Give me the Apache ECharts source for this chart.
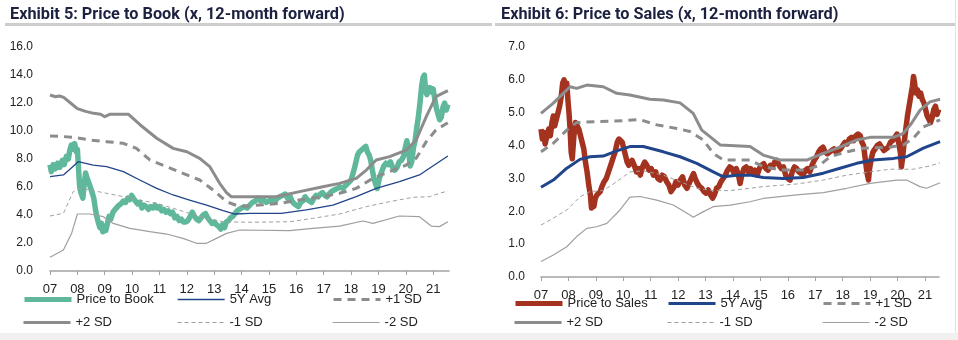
<!DOCTYPE html>
<html>
<head>
<meta charset="utf-8">
<script src="https://cdn.jsdelivr.net/npm/echarts@6/dist/echarts.min.js"></script>
<style>
  html, body { margin: 0; padding: 0; background: #ffffff; }
  #chart { width: 958px; height: 340px; }
</style>
</head>
<body>
<div id="chart"></div>
<script>
// ---- Time axis (fractional years) and tick labels ----
const yearTicks = [2007, 2008, 2009, 2010, 2011, 2012, 2013, 2014, 2015, 2016, 2017, 2018, 2019, 2020, 2021];
const yearLabels = ['07', '08', '09', '10', '11', '12', '13', '14', '15', '16', '17', '18', '19', '20', '21'];

// ---- Exhibit 5: Price to Book (x, 12-month forward) ----
const priceToBook = [
  [2007.00,7.6],[2007.05,7.1],[2007.12,7.6],[2007.20,7.3],[2007.28,7.7],[2007.36,7.4],[2007.45,7.9],[2007.52,7.6],
  [2007.60,8.2],[2007.67,8.0],[2007.72,8.6],[2007.78,9.0],[2007.84,8.7],[2007.90,9.1],[2007.96,8.5],[2008.00,8.7],
  [2008.04,7.4],[2008.08,6.1],[2008.13,5.6],[2008.20,5.2],[2008.25,6.2],[2008.30,7.0],[2008.36,6.6],[2008.42,6.3],
  [2008.48,6.4],[2008.54,5.6],[2008.60,5.2],[2008.66,4.4],[2008.70,4.0],[2008.76,3.5],[2008.82,3.1],[2008.88,3.4],
  [2008.93,2.8],[2008.98,3.2],[2009.04,2.9],[2009.10,3.4],[2009.16,3.9],[2009.22,3.7],[2009.30,4.2],[2009.38,4.4],
  [2009.45,4.3],[2009.52,4.7],[2009.60,4.8],[2009.68,5.0],[2009.76,4.9],[2009.84,5.2],[2009.92,5.1],[2009.98,5.4],
  [2010.05,5.2],[2010.12,5.0],[2010.20,4.8],[2010.28,4.9],[2010.36,4.5],[2010.44,4.7],[2010.52,4.6],[2010.60,4.4],
  [2010.68,4.6],[2010.76,4.5],[2010.84,4.7],[2010.92,4.5],[2011.00,4.6],[2011.08,4.3],[2011.16,4.4],[2011.24,4.2],
  [2011.32,4.3],[2011.40,4.1],[2011.48,4.2],[2011.56,3.8],[2011.64,3.9],[2011.72,3.6],[2011.80,3.7],[2011.88,3.5],
  [2011.96,3.5],[2012.04,3.6],[2012.12,3.9],[2012.20,4.2],[2012.28,3.9],[2012.36,3.7],[2012.44,3.6],[2012.52,3.8],
  [2012.60,4.0],[2012.68,4.1],[2012.76,3.8],[2012.84,3.6],[2012.92,3.4],[2013.00,3.5],[2013.08,3.3],[2013.16,3.2],
  [2013.24,3.0],[2013.30,3.3],[2013.38,3.1],[2013.44,3.5],[2013.52,3.6],[2013.60,3.8],[2013.68,3.9],[2013.76,4.1],
  [2013.84,4.3],[2013.92,4.4],[2014.00,4.5],[2014.10,4.6],[2014.20,4.5],[2014.30,4.7],[2014.40,4.9],[2014.50,5.0],
  [2014.60,5.2],[2014.70,5.0],[2014.80,5.1],[2014.90,4.9],[2015.00,5.0],[2015.10,5.1],[2015.20,4.9],[2015.30,5.2],
  [2015.40,5.3],[2015.50,5.4],[2015.60,5.5],[2015.68,5.2],[2015.76,5.4],[2015.84,5.0],[2015.92,4.8],[2016.00,4.7],
  [2016.08,4.6],[2016.16,4.9],[2016.24,5.0],[2016.32,5.3],[2016.40,5.1],[2016.48,5.0],[2016.56,4.9],[2016.64,5.2],
  [2016.72,5.4],[2016.80,5.3],[2016.88,5.5],[2016.96,5.6],[2017.04,5.4],[2017.12,5.3],[2017.20,5.5],[2017.30,5.7],
  [2017.40,5.8],[2017.50,5.9],[2017.60,6.0],[2017.70,5.9],[2017.80,6.1],[2017.90,6.3],[2018.00,6.5],[2018.06,6.9],
  [2018.12,7.3],[2018.18,7.8],[2018.24,8.3],[2018.30,8.5],[2018.36,8.4],[2018.42,8.7],[2018.48,8.6],[2018.54,8.9],
  [2018.60,8.5],[2018.66,8.3],[2018.72,7.9],[2018.78,7.2],[2018.84,6.6],[2018.90,6.2],[2018.96,5.9],[2019.02,6.5],
  [2019.08,6.9],[2019.14,7.2],[2019.20,7.5],[2019.28,7.7],[2019.36,7.6],[2019.44,7.8],[2019.52,7.4],[2019.60,7.2],
  [2019.68,7.4],[2019.76,7.8],[2019.84,7.9],[2019.92,8.2],[2019.98,8.8],[2020.04,9.3],[2020.10,8.7],[2020.16,7.5],
  [2020.22,7.8],[2020.28,8.8],[2020.34,9.3],[2020.40,10.2],[2020.46,11.0],[2020.52,12.0],[2020.58,13.2],[2020.63,13.8],
  [2020.68,14.0],[2020.72,13.0],[2020.77,12.6],[2020.82,12.9],[2020.88,13.1],[2020.94,12.8],[2021.00,13.0],[2021.06,12.3],
  [2021.12,11.6],[2021.18,11.2],[2021.24,10.8],[2021.30,11.0],[2021.36,11.7],[2021.42,12.0],[2021.48,11.5],[2021.54,11.9]
];
const pbAvg5y = [
  [2007.00,6.74],[2007.49,6.86],[2007.75,7.30],[2008.03,7.81],[2008.58,7.57],[2009.07,7.45],[2009.68,7.10],[2010.28,6.50],
  [2010.90,5.90],[2011.50,5.43],[2012.10,5.07],[2012.72,4.71],[2013.33,4.31],[2013.75,4.07],[2014.30,4.12],[2015.45,4.12],
  [2016.37,4.36],[2017.34,4.71],[2018.19,5.31],[2018.92,5.90],[2019.77,6.38],[2020.50,6.86],[2020.99,7.50],[2021.54,8.21]
];
const pbPlus1 = [
  [2007.00,9.64],[2007.50,9.60],[2007.85,9.55],[2008.46,9.36],[2009.07,9.24],[2009.68,9.12],[2010.16,8.76],[2010.65,7.93],
  [2011.26,7.45],[2011.86,6.98],[2012.47,6.50],[2012.96,5.79],[2013.45,4.95],[2013.93,4.60],[2014.66,4.71],[2015.39,4.83],
  [2016.10,5.07],[2016.97,5.31],[2017.58,5.55],[2018.19,5.90],[2018.80,6.62],[2019.41,7.10],[2020.02,7.57],[2020.38,8.05],
  [2020.75,9.24],[2021.10,10.07],[2021.54,10.60]
];
const pbPlus2 = [
  [2007.00,12.57],[2007.20,12.45],[2007.35,12.50],[2007.50,12.40],[2007.75,12.00],[2008.00,11.60],[2008.30,11.40],[2008.60,11.26],
  [2008.85,11.20],[2009.00,11.02],[2009.20,11.20],[2009.86,11.20],[2010.30,10.43],[2010.90,9.48],[2011.50,8.76],[2012.00,8.52],
  [2012.47,8.05],[2012.84,7.45],[2013.20,6.26],[2013.45,5.60],[2013.63,5.30],[2014.30,5.30],[2015.27,5.31],[2016.12,5.67],
  [2016.97,6.02],[2017.58,6.26],[2018.19,6.62],[2018.56,7.21],[2018.92,7.93],[2019.41,8.17],[2020.02,8.64],[2020.38,9.36],
  [2020.75,11.02],[2021.10,12.45],[2021.54,12.88]
];
const pbMinus1 = [
  [2007.00,3.93],[2007.49,4.12],[2007.85,5.67],[2008.10,5.90],[2008.58,5.74],[2009.07,5.55],[2009.68,5.31],[2010.28,5.07],
  [2010.90,4.83],[2011.50,4.48],[2012.10,4.12],[2012.72,3.76],[2013.33,3.52],[2014.30,3.48],[2015.76,3.52],[2016.60,3.76],
  [2017.58,4.07],[2018.56,4.60],[2019.41,4.95],[2020.26,5.26],[2020.87,5.31],[2021.23,5.55],[2021.54,5.71]
];
const pbMinus2 = [
  [2007.00,0.98],[2007.49,1.50],[2007.79,2.69],[2008.00,4.07],[2008.46,4.07],[2008.95,3.88],[2009.31,3.40],[2009.92,3.05],
  [2010.65,2.81],[2011.26,2.64],[2011.86,2.33],[2012.35,1.98],[2012.72,1.98],[2013.08,2.33],[2013.45,2.69],[2013.93,2.93],
  [2015.76,2.88],[2016.60,3.05],[2017.58,3.21],[2018.43,3.57],[2018.80,3.40],[2019.77,3.93],[2020.50,3.88],[2020.93,3.21],
  [2021.23,3.17],[2021.54,3.52]
];

// ---- Exhibit 6: Price to Sales (x, 12-month forward) ----
const priceToSales = [
  [2007.00,4.50],[2007.05,4.20],[2007.10,4.40],[2007.15,4.05],[2007.22,4.30],[2007.28,4.50],[2007.34,4.30],[2007.40,4.70],
  [2007.45,4.90],[2007.50,4.60],[2007.56,4.60],[2007.62,5.00],[2007.68,5.20],[2007.74,5.50],[2007.79,5.90],[2007.84,6.00],
  [2007.89,5.70],[2007.94,5.90],[2007.98,5.40],[2008.02,5.00],[2008.06,4.50],[2008.10,3.80],[2008.14,3.60],[2008.20,4.30],
  [2008.26,4.70],[2008.32,4.60],[2008.38,4.50],[2008.44,4.30],[2008.50,4.10],[2008.56,3.90],[2008.62,3.50],[2008.68,3.20],
  [2008.74,2.80],[2008.80,2.50],[2008.84,2.10],[2008.88,2.30],[2008.93,2.15],[2008.98,2.40],[2009.04,2.50],[2009.10,2.45],
  [2009.16,2.60],[2009.22,2.75],[2009.30,2.90],[2009.38,3.00],[2009.46,3.20],[2009.54,3.40],[2009.62,3.60],[2009.70,3.80],
  [2009.78,4.10],[2009.84,4.20],[2009.90,4.25],[2009.96,4.10],[2010.02,3.90],[2010.08,3.70],[2010.14,3.50],[2010.20,3.40],
  [2010.26,3.35],[2010.32,3.55],[2010.40,3.40],[2010.48,3.20],[2010.56,3.30],[2010.62,3.10],[2010.70,3.35],[2010.78,3.50],
  [2010.86,3.40],[2010.94,3.25],[2011.02,3.30],[2011.10,3.10],[2011.18,3.20],[2011.26,3.00],[2011.34,2.95],[2011.42,3.10],
  [2011.50,3.05],[2011.58,2.90],[2011.66,2.80],[2011.74,2.60],[2011.80,2.55],[2011.86,2.75],[2011.92,2.90],[2012.00,2.80],
  [2012.08,2.95],[2012.16,3.05],[2012.24,2.80],[2012.32,2.70],[2012.40,2.85],[2012.48,3.00],[2012.56,3.15],[2012.62,3.00],
  [2012.70,2.85],[2012.78,2.75],[2012.86,2.70],[2012.94,2.60],[2013.02,2.55],[2013.10,2.65],[2013.18,2.50],[2013.26,2.40],
  [2013.32,2.50],[2013.40,2.70],[2013.48,2.75],[2013.56,2.90],[2013.64,3.00],[2013.72,3.10],[2013.80,3.25],[2013.88,3.35],
  [2013.96,3.30],[2014.04,3.15],[2014.12,3.30],[2014.20,3.10],[2014.26,2.85],[2014.32,3.10],[2014.40,3.30],[2014.48,3.35],
  [2014.56,3.20],[2014.64,3.30],[2014.72,3.15],[2014.80,3.25],[2014.88,3.10],[2014.96,3.30],[2015.04,3.40],[2015.12,3.45],
  [2015.20,3.30],[2015.28,3.25],[2015.36,3.40],[2015.44,3.35],[2015.52,3.50],[2015.60,3.55],[2015.68,3.40],[2015.76,3.30],
  [2015.84,3.35],[2015.92,3.10],[2016.00,3.00],[2016.08,2.95],[2016.16,3.20],[2016.24,3.35],[2016.32,3.30],[2016.40,3.20],
  [2016.48,3.15],[2016.56,3.10],[2016.64,3.25],[2016.72,3.30],[2016.80,3.20],[2016.88,3.40],[2016.96,3.55],[2017.04,3.65],
  [2017.12,3.80],[2017.20,3.90],[2017.28,3.95],[2017.36,3.80],[2017.44,3.75],[2017.52,3.80],[2017.60,3.85],[2017.68,3.90],
  [2017.76,3.80],[2017.84,3.85],[2017.92,3.90],[2018.00,4.00],[2018.08,4.10],[2018.16,4.05],[2018.24,4.20],[2018.32,4.25],
  [2018.40,4.15],[2018.48,4.30],[2018.56,4.35],[2018.64,4.30],[2018.70,4.10],[2018.76,4.00],[2018.82,3.60],[2018.88,3.20],
  [2018.94,2.95],[2018.98,3.30],[2019.04,3.60],[2019.10,3.80],[2019.18,3.90],[2019.26,4.00],[2019.34,4.05],[2019.42,3.95],
  [2019.50,3.85],[2019.58,3.90],[2019.66,3.95],[2019.74,4.10],[2019.82,4.15],[2019.90,4.25],[2019.98,4.35],[2020.04,4.30],
  [2020.10,3.80],[2020.14,3.35],[2020.18,3.60],[2020.24,4.10],[2020.30,4.50],[2020.36,4.90],[2020.42,5.20],[2020.48,5.50],
  [2020.54,5.80],[2020.58,6.10],[2020.62,5.90],[2020.66,5.60],[2020.72,5.70],[2020.78,5.50],[2020.84,5.60],[2020.90,5.40],
  [2020.96,5.30],[2021.02,5.10],[2021.08,4.90],[2021.14,4.80],[2021.20,4.70],[2021.26,4.85],[2021.32,5.10],[2021.38,5.20],
  [2021.44,4.95],[2021.50,5.10]
];
const psAvg5y = [
  [2007.00,2.73],[2007.45,2.95],[2007.94,3.31],[2008.42,3.58],[2008.79,3.66],[2009.27,3.68],[2009.76,3.84],[2010.24,3.97],
  [2010.73,3.97],[2011.46,3.81],[2012.07,3.66],[2012.68,3.46],[2013.28,3.20],[2013.65,3.05],[2014.13,3.10],[2014.62,3.10],
  [2015.10,3.03],[2015.83,3.00],[2016.56,3.03],[2017.29,3.16],[2017.90,3.31],[2018.51,3.46],[2019.11,3.56],[2019.85,3.61],
  [2020.33,3.66],[2020.94,3.92],[2021.55,4.12]
];
const psPlus1 = [
  [2007.00,3.81],[2007.45,4.07],[2007.94,4.47],[2008.30,4.70],[2009.03,4.73],[2010.00,4.76],[2010.61,4.79],[2011.22,4.63],
  [2011.95,4.52],[2012.43,4.43],[2012.92,4.17],[2013.28,3.76],[2013.65,3.56],[2014.62,3.56],[2015.10,3.36],[2015.71,3.26],
  [2016.69,3.26],[2017.17,3.41],[2017.54,3.66],[2018.15,3.81],[2018.75,3.92],[2019.72,3.95],[2020.21,4.02],[2020.57,4.22],
  [2020.94,4.57],[2021.55,4.78]
];
const psPlus2 = [
  [2007.00,4.98],[2007.45,5.29],[2007.81,5.59],[2008.06,5.79],[2008.30,5.74],[2008.67,5.84],[2009.27,5.79],[2009.76,5.59],
  [2010.24,5.54],[2010.97,5.41],[2011.46,5.39],[2012.07,5.30],[2012.55,4.98],[2012.86,4.47],[2013.16,4.27],[2013.53,4.02],
  [2014.62,3.97],[2015.10,3.71],[2015.71,3.56],[2016.69,3.56],[2017.29,3.76],[2017.90,3.95],[2018.51,4.17],[2019.00,4.25],
  [2019.85,4.25],[2020.21,4.37],[2020.51,4.68],[2020.82,5.08],[2021.18,5.33],[2021.55,5.41]
];
const psMinus1 = [
  [2007.00,1.58],[2007.45,1.79],[2007.94,2.04],[2008.42,2.44],[2008.79,2.60],[2009.27,2.63],[2009.76,2.90],[2010.24,3.20],
  [2010.73,3.23],[2011.46,3.10],[2012.07,2.90],[2012.68,2.70],[2013.28,2.63],[2013.90,2.63],[2015.10,2.75],[2016.32,2.83],
  [2017.29,2.95],[2018.15,3.10],[2019.00,3.20],[2019.72,3.28],[2020.57,3.28],[2021.18,3.38],[2021.55,3.48]
];
const psMinus2 = [
  [2007.00,0.47],[2007.45,0.67],[2007.94,0.92],[2008.30,1.23],[2008.67,1.48],[2009.03,1.53],[2009.40,1.63],[2009.88,2.04],
  [2010.24,2.43],[2010.61,2.45],[2011.22,2.34],[2011.82,2.19],[2012.43,1.89],[2012.55,1.82],[2012.92,1.99],[2013.28,2.14],
  [2013.90,2.19],[2014.62,2.29],[2015.10,2.39],[2016.32,2.50],[2017.29,2.57],[2018.15,2.70],[2019.00,2.85],[2019.97,2.95],
  [2020.33,2.95],[2020.82,2.75],[2021.06,2.70],[2021.55,2.87]
];

// ---- Shared styling ----
const FONT = '"Liberation Sans", Arial, sans-serif';
const GREY = '#8c8c8c';
const GREY_LIGHT = '#9f9f9f';
const TEAL = '#5fb89b';
const RED = '#a3321f';
const NAVY = '#21458a';

const styles = {
  pb:    { color: TEAL, width: 5.5, type: 'solid' },
  pbAvg: { color: NAVY, width: 1.3, type: 'solid' },
  ps:    { color: RED, width: 5.5, type: 'solid' },
  psAvg: { color: NAVY, width: 3, type: 'solid' },
  plus1: { color: GREY, width: 3, type: [8, 6] },
  plus2: { color: GREY, width: 3, type: 'solid' },
  minus1:{ color: GREY_LIGHT, width: 1, type: [4, 3] },
  minus2:{ color: GREY_LIGHT, width: 1.2, type: 'solid' }
};

function lineSeries(name, data, idx, style) {
  return {
    name: name, type: 'line', data: data,
    xAxisIndex: idx, yAxisIndex: idx,
    symbol: 'none', showSymbol: false, silent: true, animation: false,
    lineStyle: { color: style.color, width: style.width, type: style.type, cap: 'butt', join: 'round' },
    itemStyle: { color: style.color }
  };
}

// One legend block per entry so the entries sit in fixed columns
function legendItem(name, style, left, top) {
  return {
    show: true,
    data: [name],
    left: left, top: top, padding: 0,
    itemWidth: 47, itemHeight: 14, itemGap: 0,
    selectedMode: false,
    lineStyle: { color: style.color, width: Math.min(style.width, 5), type: style.type },
    itemStyle: { opacity: 0, borderWidth: 0 },
    textStyle: { fontFamily: FONT, fontSize: 13, color: '#222' }
  };
}

function xAxisFor(idx, max) {
  return {
    type: 'value', gridIndex: idx, min: 2007, max: max,
    axisLine: { show: true, lineStyle: { color: '#a3a3a3', width: 1.5 } },
    axisTick: { show: true, length: 4, customValues: yearTicks, lineStyle: { color: '#a3a3a3', width: 1 } },
    axisLabel: {
      customValues: yearTicks, margin: 12,
      fontFamily: FONT, fontSize: 13, color: '#222',
      formatter: function (v) { const i = yearTicks.indexOf(Math.round(v)); return i >= 0 ? yearLabels[i] : ''; }
    },
    splitLine: { show: false }
  };
}

function yAxisFor(idx, max, margin) {
  return {
    type: 'value', gridIndex: idx, min: 0, max: max, interval: max === 16 ? 2 : 1,
    axisLine: { show: false }, axisTick: { show: false }, splitLine: { show: false },
    axisLabel: { margin: margin, fontFamily: FONT, fontSize: 12, color: '#222', formatter: function (v) { return v.toFixed(1); } }
  };
}

const chart = echarts.init(document.getElementById('chart'), null, { renderer: 'canvas' });

const option = {
  backgroundColor: '#ffffff',
  animation: false,
  title: [
    { text: 'Exhibit 5: Price to Book (x, 12-month forward)', left: 5, top: 2,
      textStyle: { fontFamily: 'Roboto, sans-serif', fontWeight: 'bold', fontSize: 16.3, color: '#1d2140' } },
    { text: 'Exhibit 6: Price to Sales (x, 12-month forward)', left: 496, top: 2,
      textStyle: { fontFamily: 'Roboto, sans-serif', fontWeight: 'bold', fontSize: 16.3, color: '#1d2140' } }
  ],
  grid: [
    { left: 50, right: 958 - 449, top: 47, bottom: 340 - 271, containLabel: false },
    { left: 541, right: 958 - 939, top: 47, bottom: 340 - 277, containLabel: false }
  ],
  xAxis: [xAxisFor(0, 2021.58), xAxisFor(1, 2021.51)],
  yAxis: [yAxisFor(0, 16, 17), yAxisFor(1, 7, 16)],
  legend: [
    legendItem('Price to Book', styles.pb, 22, 293),
    legendItem('5Y Avg ', styles.pbAvg, 177, 293),
    legendItem('+1 SD ', styles.plus1, 332, 293),
    legendItem('+2 SD ', styles.plus2, 22, 316),
    legendItem('-1 SD ', styles.minus1, 177, 316),
    legendItem('-2 SD ', styles.minus2, 332, 316),
    legendItem('Price to Sales', styles.ps, 513, 297),
    legendItem('5Y Avg', styles.psAvg, 667, 297),
    legendItem('+1 SD', styles.plus1, 822, 297),
    legendItem('+2 SD', styles.plus2, 513, 316),
    legendItem('-1 SD', styles.minus1, 667, 316),
    legendItem('-2 SD', styles.minus2, 822, 316)
  ],
  graphic: [
    { type: 'rect', shape: { x: 5, y: 23, width: 487, height: 3 }, style: { fill: '#cdcdcd' }, silent: true },
    { type: 'rect', shape: { x: 495, y: 23, width: 460, height: 3 }, style: { fill: '#cdcdcd' }, silent: true },
    { type: 'rect', shape: { x: 955, y: 0, width: 1, height: 333 }, style: { fill: '#e2e2e2' }, silent: true },
    { type: 'rect', shape: { x: 0, y: 333, width: 958, height: 7 }, style: { fill: '#f0f0f0' }, silent: true }
  ],
  series: [
    // Exhibit 5 (trailing spaces keep legend names distinct from Exhibit 6)
    lineSeries('Price to Book', priceToBook, 0, styles.pb),
    lineSeries('5Y Avg ', pbAvg5y, 0, styles.pbAvg),
    lineSeries('+1 SD ', pbPlus1, 0, styles.plus1),
    lineSeries('-1 SD ', pbMinus1, 0, styles.minus1),
    lineSeries('-2 SD ', pbMinus2, 0, styles.minus2),
    lineSeries('+2 SD ', pbPlus2, 0, styles.plus2),
    // Exhibit 6
    lineSeries('Price to Sales', priceToSales, 1, styles.ps),
    lineSeries('5Y Avg', psAvg5y, 1, styles.psAvg),
    lineSeries('+1 SD', psPlus1, 1, styles.plus1),
    lineSeries('-1 SD', psMinus1, 1, styles.minus1),
    lineSeries('-2 SD', psMinus2, 1, styles.minus2),
    lineSeries('+2 SD', psPlus2, 1, styles.plus2)
  ]
};

chart.setOption(option);
</script>
</body>
</html>
